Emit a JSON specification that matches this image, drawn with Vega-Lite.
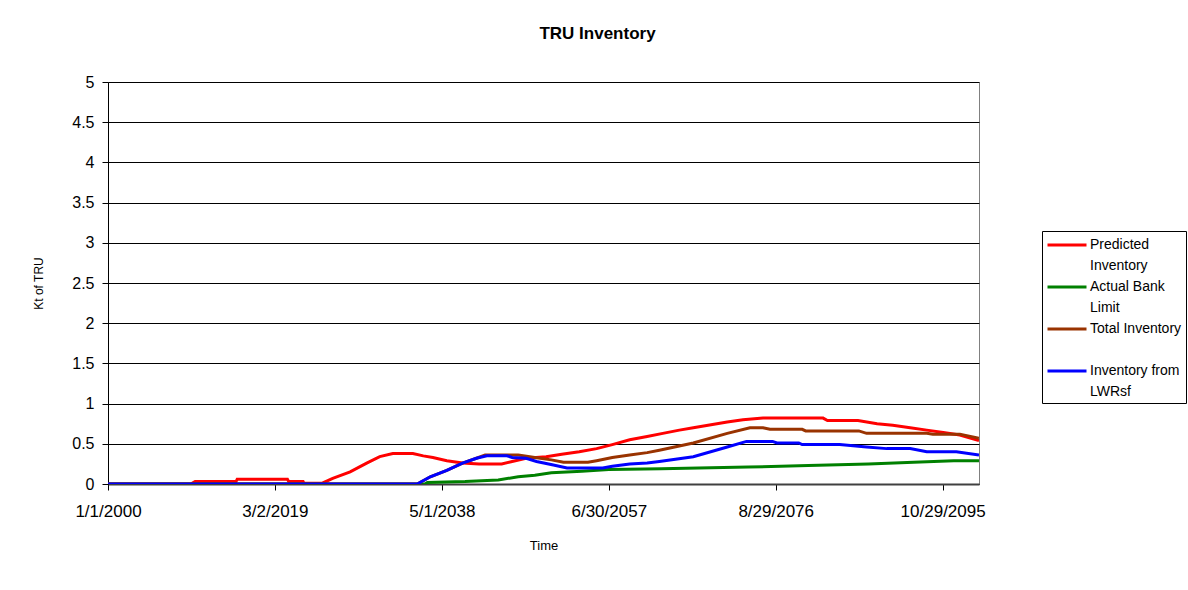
{
  "$schema": "https://vega.github.io/schema/vega-lite/v6.json",
  "autosize": {"type": "none"},
  "width": 871,
  "height": 402,
  "padding": {"left": 108, "top": 82, "right": 209, "bottom": 106},
  "background": "white",
  "config": {
    "font": "Liberation Sans",
    "view": {"stroke": "#808080", "strokeWidth": 1}
  },
  "title": {
    "text": "TRU Inventory",
    "font": "Liberation Sans",
    "fontSize": 17,
    "fontWeight": "bold",
    "color": "black",
    "anchor": "middle",
    "baseline": "alphabetic",
    "offset": 18,
    "dx": 54
  },
  "data": {
    "values": [
      {"date": "2000-01-01", "series": "Predicted Inventory", "value": 0},
      {"date": "2009-07-02", "series": "Predicted Inventory", "value": 0},
      {"date": "2010-01-01", "series": "Predicted Inventory", "value": 0.03},
      {"date": "2014-09-13", "series": "Predicted Inventory", "value": 0.03},
      {"date": "2014-11-01", "series": "Predicted Inventory", "value": 0.06},
      {"date": "2020-08-08", "series": "Predicted Inventory", "value": 0.06},
      {"date": "2020-10-01", "series": "Predicted Inventory", "value": 0.03},
      {"date": "2022-05-27", "series": "Predicted Inventory", "value": 0.03},
      {"date": "2022-07-01", "series": "Predicted Inventory", "value": 0.01},
      {"date": "2024-08-08", "series": "Predicted Inventory", "value": 0.01},
      {"date": "2025-10-20", "series": "Predicted Inventory", "value": 0.07},
      {"date": "2027-10-20", "series": "Predicted Inventory", "value": 0.15},
      {"date": "2029-09-13", "series": "Predicted Inventory", "value": 0.26},
      {"date": "2031-03-14", "series": "Predicted Inventory", "value": 0.34},
      {"date": "2032-09-13", "series": "Predicted Inventory", "value": 0.38},
      {"date": "2035-01-01", "series": "Predicted Inventory", "value": 0.38},
      {"date": "2036-03-14", "series": "Predicted Inventory", "value": 0.35},
      {"date": "2037-04-20", "series": "Predicted Inventory", "value": 0.33},
      {"date": "2038-11-25", "series": "Predicted Inventory", "value": 0.29},
      {"date": "2040-09-13", "series": "Predicted Inventory", "value": 0.26},
      {"date": "2042-08-08", "series": "Predicted Inventory", "value": 0.25},
      {"date": "2045-03-14", "series": "Predicted Inventory", "value": 0.25},
      {"date": "2046-05-27", "series": "Predicted Inventory", "value": 0.28},
      {"date": "2048-01-01", "series": "Predicted Inventory", "value": 0.32},
      {"date": "2050-04-20", "series": "Predicted Inventory", "value": 0.34},
      {"date": "2052-02-06", "series": "Predicted Inventory", "value": 0.37},
      {"date": "2054-02-06", "series": "Predicted Inventory", "value": 0.40},
      {"date": "2056-02-06", "series": "Predicted Inventory", "value": 0.44},
      {"date": "2057-11-25", "series": "Predicted Inventory", "value": 0.49},
      {"date": "2059-11-25", "series": "Predicted Inventory", "value": 0.55},
      {"date": "2061-11-25", "series": "Predicted Inventory", "value": 0.59},
      {"date": "2063-09-13", "series": "Predicted Inventory", "value": 0.63},
      {"date": "2065-08-08", "series": "Predicted Inventory", "value": 0.67},
      {"date": "2067-03-14", "series": "Predicted Inventory", "value": 0.70},
      {"date": "2071-02-06", "series": "Predicted Inventory", "value": 0.77},
      {"date": "2072-11-25", "series": "Predicted Inventory", "value": 0.80},
      {"date": "2075-03-14", "series": "Predicted Inventory", "value": 0.82},
      {"date": "2082-02-06", "series": "Predicted Inventory", "value": 0.82},
      {"date": "2082-08-08", "series": "Predicted Inventory", "value": 0.79},
      {"date": "2086-02-06", "series": "Predicted Inventory", "value": 0.79},
      {"date": "2088-04-20", "series": "Predicted Inventory", "value": 0.75},
      {"date": "2090-02-06", "series": "Predicted Inventory", "value": 0.73},
      {"date": "2092-02-06", "series": "Predicted Inventory", "value": 0.70},
      {"date": "2094-01-01", "series": "Predicted Inventory", "value": 0.67},
      {"date": "2095-11-25", "series": "Predicted Inventory", "value": 0.64},
      {"date": "2097-10-20", "series": "Predicted Inventory", "value": 0.61},
      {"date": "2099-12-31", "series": "Predicted Inventory", "value": 0.54},

      {"date": "2000-01-01", "series": "Actual Bank Limit", "value": 0},
      {"date": "2036-05-27", "series": "Actual Bank Limit", "value": 0},
      {"date": "2036-09-01", "series": "Actual Bank Limit", "value": 0.02},
      {"date": "2041-01-01", "series": "Actual Bank Limit", "value": 0.03},
      {"date": "2044-10-20", "series": "Actual Bank Limit", "value": 0.05},
      {"date": "2047-02-06", "series": "Actual Bank Limit", "value": 0.09},
      {"date": "2049-01-01", "series": "Actual Bank Limit", "value": 0.11},
      {"date": "2050-11-25", "series": "Actual Bank Limit", "value": 0.14},
      {"date": "2054-05-27", "series": "Actual Bank Limit", "value": 0.16},
      {"date": "2057-07-02", "series": "Actual Bank Limit", "value": 0.18},
      {"date": "2063-07-02", "series": "Actual Bank Limit", "value": 0.19},
      {"date": "2073-07-02", "series": "Actual Bank Limit", "value": 0.21},
      {"date": "2080-05-27", "series": "Actual Bank Limit", "value": 0.23},
      {"date": "2087-04-20", "series": "Actual Bank Limit", "value": 0.25},
      {"date": "2092-07-02", "series": "Actual Bank Limit", "value": 0.27},
      {"date": "2097-02-06", "series": "Actual Bank Limit", "value": 0.29},
      {"date": "2099-12-31", "series": "Actual Bank Limit", "value": 0.29},

      {"date": "2000-01-01", "series": "Total Inventory", "value": 0},
      {"date": "2035-07-02", "series": "Total Inventory", "value": 0},
      {"date": "2037-01-01", "series": "Total Inventory", "value": 0.09},
      {"date": "2038-11-25", "series": "Total Inventory", "value": 0.17},
      {"date": "2040-09-13", "series": "Total Inventory", "value": 0.26},
      {"date": "2042-04-20", "series": "Total Inventory", "value": 0.32},
      {"date": "2043-04-20", "series": "Total Inventory", "value": 0.36},
      {"date": "2047-02-06", "series": "Total Inventory", "value": 0.36},
      {"date": "2049-01-01", "series": "Total Inventory", "value": 0.33},
      {"date": "2050-11-25", "series": "Total Inventory", "value": 0.30},
      {"date": "2052-04-20", "series": "Total Inventory", "value": 0.27},
      {"date": "2055-02-06", "series": "Total Inventory", "value": 0.27},
      {"date": "2056-02-06", "series": "Total Inventory", "value": 0.29},
      {"date": "2057-11-25", "series": "Total Inventory", "value": 0.33},
      {"date": "2059-11-25", "series": "Total Inventory", "value": 0.36},
      {"date": "2061-11-25", "series": "Total Inventory", "value": 0.39},
      {"date": "2063-04-20", "series": "Total Inventory", "value": 0.42},
      {"date": "2067-03-14", "series": "Total Inventory", "value": 0.51},
      {"date": "2071-02-06", "series": "Total Inventory", "value": 0.63},
      {"date": "2073-09-13", "series": "Total Inventory", "value": 0.70},
      {"date": "2075-03-14", "series": "Total Inventory", "value": 0.70},
      {"date": "2076-01-01", "series": "Total Inventory", "value": 0.68},
      {"date": "2079-09-13", "series": "Total Inventory", "value": 0.68},
      {"date": "2080-02-06", "series": "Total Inventory", "value": 0.66},
      {"date": "2086-03-14", "series": "Total Inventory", "value": 0.66},
      {"date": "2087-02-06", "series": "Total Inventory", "value": 0.63},
      {"date": "2094-01-01", "series": "Total Inventory", "value": 0.63},
      {"date": "2094-09-13", "series": "Total Inventory", "value": 0.62},
      {"date": "2097-10-20", "series": "Total Inventory", "value": 0.62},
      {"date": "2099-12-31", "series": "Total Inventory", "value": 0.57},

      {"date": "2000-01-01", "series": "Inventory from LWRsf", "value": 0},
      {"date": "2035-07-02", "series": "Inventory from LWRsf", "value": 0},
      {"date": "2037-01-01", "series": "Inventory from LWRsf", "value": 0.09},
      {"date": "2038-11-25", "series": "Inventory from LWRsf", "value": 0.17},
      {"date": "2040-09-13", "series": "Inventory from LWRsf", "value": 0.26},
      {"date": "2042-04-20", "series": "Inventory from LWRsf", "value": 0.32},
      {"date": "2043-07-02", "series": "Inventory from LWRsf", "value": 0.35},
      {"date": "2045-10-20", "series": "Inventory from LWRsf", "value": 0.35},
      {"date": "2046-05-27", "series": "Inventory from LWRsf", "value": 0.33},
      {"date": "2048-01-01", "series": "Inventory from LWRsf", "value": 0.32},
      {"date": "2049-03-14", "series": "Inventory from LWRsf", "value": 0.28},
      {"date": "2051-01-01", "series": "Inventory from LWRsf", "value": 0.24},
      {"date": "2052-09-13", "series": "Inventory from LWRsf", "value": 0.20},
      {"date": "2056-10-20", "series": "Inventory from LWRsf", "value": 0.20},
      {"date": "2057-11-25", "series": "Inventory from LWRsf", "value": 0.22},
      {"date": "2059-11-25", "series": "Inventory from LWRsf", "value": 0.25},
      {"date": "2061-11-25", "series": "Inventory from LWRsf", "value": 0.26},
      {"date": "2063-04-20", "series": "Inventory from LWRsf", "value": 0.28},
      {"date": "2067-03-14", "series": "Inventory from LWRsf", "value": 0.34},
      {"date": "2071-02-06", "series": "Inventory from LWRsf", "value": 0.46},
      {"date": "2073-04-20", "series": "Inventory from LWRsf", "value": 0.53},
      {"date": "2076-04-20", "series": "Inventory from LWRsf", "value": 0.53},
      {"date": "2076-10-20", "series": "Inventory from LWRsf", "value": 0.51},
      {"date": "2079-04-20", "series": "Inventory from LWRsf", "value": 0.51},
      {"date": "2079-09-13", "series": "Inventory from LWRsf", "value": 0.49},
      {"date": "2084-01-01", "series": "Inventory from LWRsf", "value": 0.49},
      {"date": "2087-02-06", "series": "Inventory from LWRsf", "value": 0.46},
      {"date": "2089-05-27", "series": "Inventory from LWRsf", "value": 0.44},
      {"date": "2092-02-06", "series": "Inventory from LWRsf", "value": 0.44},
      {"date": "2094-01-01", "series": "Inventory from LWRsf", "value": 0.40},
      {"date": "2097-05-27", "series": "Inventory from LWRsf", "value": 0.40},
      {"date": "2099-12-31", "series": "Inventory from LWRsf", "value": 0.36}
    ]
  },
  "mark": {"type": "line", "strokeWidth": 3, "clip": true},
  "encoding": {
    "x": {
      "field": "date",
      "type": "temporal",
      "scale": {
        "type": "utc",
        "domain": [
          {"year": 2000, "month": 1, "date": 1, "utc": true},
          {"year": 2100, "month": 1, "date": 1, "utc": true}
        ]
      },
      "axis": {
        "title": "Time",
        "titleFont": "Liberation Sans",
        "titleFontSize": 13,
        "titleFontWeight": "normal",
        "titleColor": "black",
        "titlePadding": 20,
        "values": [
          {"year": 2000, "month": 1, "date": 1, "utc": true},
          {"year": 2019, "month": 3, "date": 2, "utc": true},
          {"year": 2038, "month": 5, "date": 1, "utc": true},
          {"year": 2057, "month": 6, "date": 30, "utc": true},
          {"year": 2076, "month": 8, "date": 29, "utc": true},
          {"year": 2095, "month": 10, "date": 29, "utc": true}
        ],
        "labelExpr": "utcFormat(datum.value, '%-m/%-d/%Y')",
        "labelFont": "Liberation Sans",
        "labelFontSize": 17,
        "labelColor": "black",
        "labelPadding": 13,
        "labelOverlap": false,
        "labelFlush": false,
        "tickSize": 6,
        "tickColor": "black",
        "domainColor": "#404040",
        "domainWidth": 2,
        "grid": false
      }
    },
    "y": {
      "field": "value",
      "type": "quantitative",
      "scale": {"domain": [0, 5], "nice": false, "zero": true},
      "axis": {
        "title": "Kt of TRU",
        "titleFont": "Liberation Sans",
        "titleFontSize": 12,
        "titleFontWeight": "normal",
        "titleColor": "black",
        "titlePadding": 26,
        "values": [0, 0.5, 1, 1.5, 2, 2.5, 3, 3.5, 4, 4.5, 5],
        "format": "~g",
        "labelFont": "Liberation Sans",
        "labelFontSize": 16,
        "labelColor": "black",
        "labelPadding": 8,
        "tickSize": 6,
        "tickColor": "black",
        "domainColor": "black",
        "grid": true,
        "gridColor": "black",
        "gridWidth": 1
      }
    },
    "color": {
      "field": "series",
      "type": "nominal",
      "sort": ["Predicted Inventory", "Actual Bank Limit", "Total Inventory", "Inventory from LWRsf"],
      "scale": {
        "domain": ["Predicted Inventory", "Actual Bank Limit", "Total Inventory", "Inventory from LWRsf"],
        "range": ["#FF0000", "#008000", "#993300", "#0000FF"]
      },
      "legend": {
        "title": null,
        "orient": "none",
        "legendX": 934,
        "legendY": 149,
        "strokeColor": "black",
        "fillColor": "white",
        "padding": 4,
        "symbolType": "stroke",
        "symbolSize": 1521,
        "symbolStrokeWidth": 3,
        "labelFont": "Liberation Sans",
        "labelFontSize": 14,
        "labelColor": "black",
        "labelOffset": 2,
        "labelLimit": 200,
        "labelBaseline": "middle",
        "rowPadding": 4,
        "labelExpr": "datum.label == 'Predicted Inventory' ? ['Predicted', 'Inventory'] : datum.label == 'Actual Bank Limit' ? ['Actual Bank', 'Limit'] : datum.label == 'Total Inventory' ? ['Total Inventory', ' '] : ['Inventory from', 'LWRsf']",
        "encode": {
          "symbols": {"update": {"y": {"value": 10}}},
          "labels": {"update": {"lineHeight": {"value": 21}, "y": {"value": 10}}}
        }
      }
    }
  }
}
